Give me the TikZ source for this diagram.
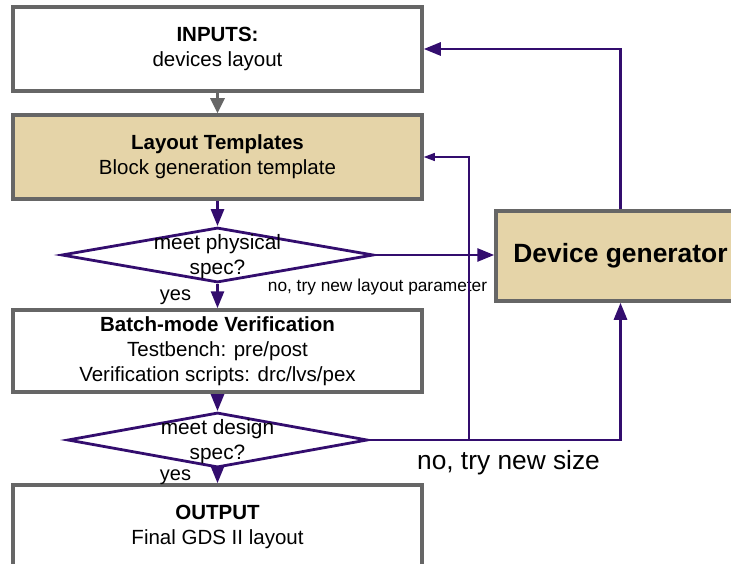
\documentclass[tikz,border=0pt]{standalone}
\usepackage{fontspec}
\setmainfont{Liberation Sans}
\usetikzlibrary{arrows.meta,shapes.geometric}
\definecolor{pp}{RGB}{51,13,110}
\definecolor{bordergray}{RGB}{102,102,102}
\definecolor{boxtan}{RGB}{229,212,168}
\begin{document}
\begin{tikzpicture}[x=1pt,y=-1pt,
  box/.style={draw=bordergray, line width=3.5pt, minimum width=409pt, minimum height=84pt,
    align=center, inner sep=0pt, font=\fontsize{20.5}{25}\selectfont},
  dia/.style={draw=pp, line width=2.8pt, diamond, inner sep=0pt},
  diatext/.style={align=center, inner sep=0pt, font=\fontsize{20.8}{25}\selectfont},
  flow/.style={draw=pp, line width=2.8pt, -{Triangle[length=17pt,width=13pt]}},
  thinflow/.style={draw=pp, line width=1.2pt, -{Triangle[length=11pt,width=8pt]}},
  grayflow/.style={draw=bordergray, line width=3pt, -{Triangle[length=15pt,width=14pt]}},
  lbl/.style={anchor=base, inner sep=0pt}
]
\useasboundingbox (0,0) rectangle (731,564);
\clip (0,0) rectangle (731,564);

\node[box] (inputs) at (217.5,49) {\textbf{INPUTS:}\\devices layout};
\node[box, fill=boxtan] (templates) at (217.5,157) {\textbf{Layout Templates}\\Block generation template};
\node[dia, minimum width=312pt, minimum height=55pt] (d1) at (217.5,255) {};
\node[diatext] (d1t) at (217.5,257) {meet physical\\spec?};
\node[box, minimum height=82pt] (batch) at (217.5,351) {\textbf{Batch-mode Verification}\\Testbench: pre/post\\Verification scripts: drc/lvs/pex};
\node[dia, minimum width=300pt, minimum height=55pt] (d2) at (217.5,440) {};
\node[diatext] (d2t) at (217.5,442) {meet design\\spec?};
\node[box] (output) at (217.5,527) {\textbf{OUTPUT}\\Final GDS II layout};
\node[box, fill=boxtan, minimum width=249pt, minimum height=90pt, font=\fontsize{26.4}{30}\selectfont\bfseries] (dev) at (620.5,256) {Device generator};

\node[lbl, font=\fontsize{20}{24}\selectfont] (yes1) at (175.5,300) {yes};
\node[lbl, font=\fontsize{17.3}{20}\selectfont] (no1) at (377.5,291) {no, try new layout parameter};
\node[lbl, font=\fontsize{20}{24}\selectfont] (yes2) at (175.5,480) {yes};
\node[lbl, font=\fontsize{26.3}{30}\selectfont] (no2) at (508.5,469) {no, try new size};

\draw[grayflow] (inputs.south) -- (templates.north);
\draw[flow] (templates.south) -- (d1.north);
\draw[flow] (d1.south) -- (batch.north);
\draw[flow] (d1.east) -- (d1.east -| dev.west);
\draw[flow] (batch.south) -- (d2.north);
\draw[flow] (d2.south) -- (output.north);
\draw[flow] (d2.east) -- (d2.east -| dev.south) -- (dev.south);
\draw[flow] (dev.north) |- (inputs.east);
\coordinate (j) at (469,440);
\draw[thinflow] (j) |- (templates.east);
\end{tikzpicture}
\end{document}
